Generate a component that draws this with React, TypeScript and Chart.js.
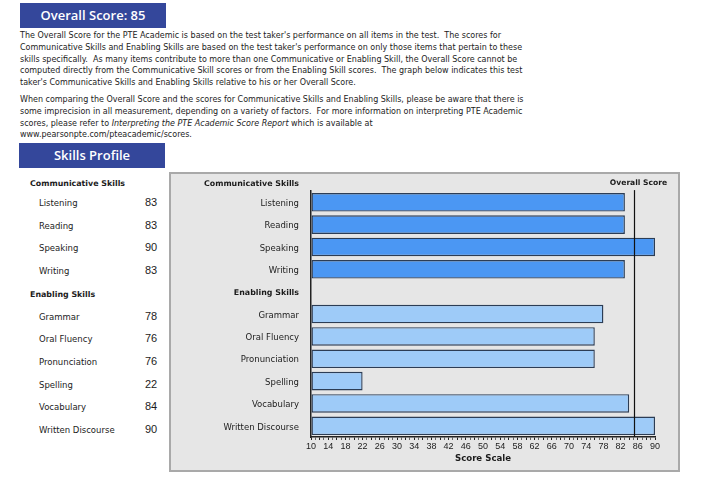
import React, { useEffect, useRef } from 'react';
import { Chart, registerables } from 'chart.js';

Chart.register(...registerables);

// ---------- data ----------
const overallScore = 85;
const topSectionHeader = 'Communicative Skills';
const categories = [
  'Listening',
  'Reading',
  'Speaking',
  'Writing',
  'Enabling Skills',
  'Grammar',
  'Oral Fluency',
  'Pronunciation',
  'Spelling',
  'Vocabulary',
  'Written Discourse',
];
const scores: (number | null)[] = [83, 83, 90, 83, null, 78, 76, 76, 22, 84, 90];
const groups = ['comm', 'comm', 'comm', 'comm', 'header', 'enab', 'enab', 'enab', 'enab', 'enab', 'enab'];
const scaleMin = 10;
const scaleMax = 90;
const labelEvery = 4;

const para1Lines = [
  "The Overall Score for the PTE Academic is based on the test taker's performance on all items in the test.  The scores for",
  "Communicative Skills and Enabling Skills are based on the test taker's performance on only those items that pertain to these",
  'skills specifically.  As many items contribute to more than one Communicative or Enabling Skill, the Overall Score cannot be',
  'computed directly from the Communicative Skill scores or from the Enabling Skill scores.  The graph below indicates this test',
  "taker's Communicative Skills and Enabling Skills relative to his or her Overall Score.",
];
const para2Lines = [
  'When comparing the Overall Score and the scores for Communicative Skills and Enabling Skills, please be aware that there is',
  'some imprecision in all measurement, depending on a variety of factors.  For more information on interpreting PTE Academic',
];
const para2Line3Pre = 'scores, please refer to ';
const para2Line3Italic = 'Interpreting the PTE Academic Score Report';
const para2Line3Post = ' which is available at';
const para2Line4 = 'www.pearsonpte.com/pteacademic/scores.';

// ---------- styles ----------
const NAVY = '#34479b';
const COMM_FILL = '#4b97f3';
const ENAB_FILL = '#9ecbf8';
const BAR_EDGE = '#2c3d55';
const TEXT = '#1c1c1c';
const LABEL_FONT = '"DejaVu Sans", Verdana, sans-serif';
const NUM_FONT = '"Liberation Sans", Arial, sans-serif';

const overlayPlugin = {
  id: 'overlay',
  afterDatasetsDraw(chart: any) {
    const { ctx, chartArea, scales } = chart;
    const x = Math.round(scales.x.getPixelForValue(overallScore)) + 0.5;
    ctx.save();
    ctx.strokeStyle = '#111';
    ctx.lineWidth = 1.2;
    ctx.beginPath();
    ctx.moveTo(x, chartArea.top - 1);
    ctx.lineTo(x, chartArea.bottom);
    ctx.stroke();
    ctx.fillStyle = TEXT;
    ctx.font = `bold 7.6px ${LABEL_FONT}`;
    ctx.textAlign = 'center';
    ctx.textBaseline = 'middle';
    ctx.fillText('Overall Score', x + 4, 9);
    ctx.font = `bold 7.9px ${LABEL_FONT}`;
    ctx.textAlign = 'right';
    ctx.fillText(topSectionHeader, chartArea.left - 12, 10);
    ctx.restore();
  },
};

function SkillsChart() {
  const ref = useRef<HTMLCanvasElement | null>(null);
  useEffect(() => {
    if (!ref.current) return;
    const chart = new Chart(ref.current, {
      type: 'bar',
      data: {
        labels: categories,
        datasets: [
          {
            data: scores as any,
            base: scaleMin,
            backgroundColor: groups.map((g) => (g === 'comm' ? COMM_FILL : ENAB_FILL)),
            borderColor: BAR_EDGE,
            borderWidth: 1.4,
            borderSkipped: false,
            categoryPercentage: 1,
            barPercentage: 0.83,
          } as any,
        ],
      },
      options: {
        indexAxis: 'y',
        animation: false,
        responsive: false,
        maintainAspectRatio: false,
        events: [],
        layout: { padding: { top: 16, right: 23, bottom: 0, left: 0 } },
        plugins: {
          legend: { display: false },
          tooltip: { enabled: false },
        },
        scales: {
          x: {
            type: 'linear',
            min: scaleMin,
            max: scaleMax,
            afterFit: (s: any) => {
              s.height = 33;
            },
            grid: {
              drawOnChartArea: false,
              drawTicks: true,
              tickLength: 3,
              tickColor: (c: any) => (c.tick && c.tick.value % 2 === 0 ? '#222' : '#666'),
            },
            border: { display: true, color: '#222', width: 1.5 },
            ticks: {
              stepSize: 1,
              autoSkip: false,
              maxRotation: 0,
              padding: 1,
              color: TEXT,
              font: { family: NUM_FONT, size: 9 },
              callback: (v: any) => ((Number(v) - scaleMin) % labelEvery === 0 ? String(v) : ''),
            },
            title: {
              display: true,
              text: 'Score Scale',
              color: TEXT,
              font: { family: LABEL_FONT, size: 8.6, weight: 'bold', lineHeight: 1.2 },
              padding: { top: 0, bottom: 6 },
            },
          },
          y: {
            afterFit: (s: any) => {
              s.width = 140;
            },
            grid: { display: false, drawTicks: false },
            border: { display: true, color: '#222', width: 1.5 },
            ticks: {
              padding: 12,
              labelOffset: 1.5,
              color: TEXT,
              font: (c: any) =>
                groups[c.index] === 'header'
                  ? { family: LABEL_FONT, size: 7.9, weight: 'bold' }
                  : { family: LABEL_FONT, size: 8.5 },
            },
          },
        },
      },
      plugins: [overlayPlugin],
    } as any);
    return () => chart.destroy();
  }, []);
  return <canvas ref={ref} width={507} height={296} style={{ display: 'block' }} />;
}

function Text({ x, y, children, style }: any) {
  return (
    <div
      style={{
        position: 'absolute',
        left: x,
        top: y - 7,
        height: 14,
        lineHeight: '14px',
        whiteSpace: 'pre',
        color: TEXT,
        ...style,
      }}
    >
      {children}
    </div>
  );
}

const boxStyle: React.CSSProperties = {
  position: 'absolute',
  background: NAVY,
  color: '#fff',
  fontFamily: '"Open Sans", sans-serif',
  fontWeight: 600,
  fontSize: 13,
  textAlign: 'center',
  boxSizing: 'border-box',
};

export default function App() {
  const paraStyle = { fontFamily: LABEL_FONT, fontSize: 8 };
  const rowY0 = 203;
  const rowStep = 22.7;
  return (
    <div style={{ position: 'absolute', left: 0, top: 0, width: 720, height: 501, background: '#fff', overflow: 'hidden' }}>
      <div style={{ ...boxStyle, left: 20, top: 3, width: 146, height: 25, lineHeight: '25px' }}>Overall Score: 85</div>

      {para1Lines.map((l, i) => (
        <Text key={'p1' + i} x={20} y={36 + i * 11.75} style={paraStyle}>
          {l}
        </Text>
      ))}
      {para2Lines.map((l, i) => (
        <Text key={'p2' + i} x={20} y={100 + i * 11.75} style={paraStyle}>
          {l}
        </Text>
      ))}
      <Text x={20} y={100 + 2 * 11.75} style={paraStyle}>
        {para2Line3Pre}
        <i>{para2Line3Italic}</i>
        {para2Line3Post}
      </Text>
      <Text x={20} y={100 + 3 * 11.75} style={paraStyle}>
        {para2Line4}
      </Text>

      <div style={{ ...boxStyle, left: 19, top: 143, width: 146, height: 25, lineHeight: '25px' }}>Skills Profile</div>

      <Text x={30} y={184} style={{ fontFamily: LABEL_FONT, fontSize: 7.9, fontWeight: 'bold' }}>
        {topSectionHeader}
      </Text>
      {categories.map((c, i) =>
        groups[i] === 'header' ? (
          <Text key={c} x={30} y={rowY0 + 1 + i * rowStep} style={{ fontFamily: LABEL_FONT, fontSize: 7.9, fontWeight: 'bold' }}>
            {c}
          </Text>
        ) : (
          <React.Fragment key={c}>
            <Text x={39} y={rowY0 + i * rowStep} style={{ fontFamily: LABEL_FONT, fontSize: 8.5 }}>
              {c}
            </Text>
            <Text x={145} y={rowY0 - 1 + i * rowStep} style={{ fontFamily: NUM_FONT, fontSize: 11 }}>
              {String(scores[i])}
            </Text>
          </React.Fragment>
        )
      )}

      <div
        style={{
          position: 'absolute',
          left: 169,
          top: 172,
          width: 511,
          height: 300,
          boxSizing: 'border-box',
          border: '2px solid #a9a9a9',
          background: '#e6e6e6',
        }}
      >
        <SkillsChart />
      </div>
    </div>
  );
}
